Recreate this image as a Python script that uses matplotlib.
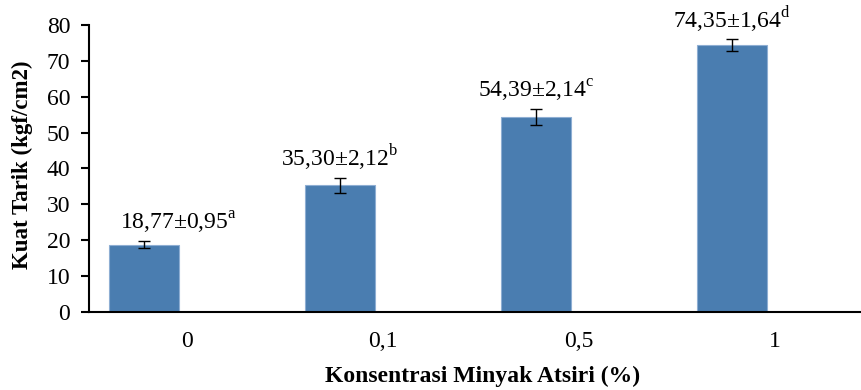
import numpy as np
import matplotlib
matplotlib.use('Agg')
import matplotlib.pyplot as plt

plt.rcParams['font.family'] = ['Liberation Serif', 'DejaVu Serif']
plt.rcParams['mathtext.fontset'] = 'custom'
plt.rcParams['mathtext.rm'] = 'Liberation Serif'

# data
konsentrasi = ['0', '0,1', '0,5', '1']
kuat_tarik = [18.77, 35.30, 54.39, 74.35]
sd = [0.95, 2.12, 2.14, 1.64]
notasi = ['a', 'b', 'c', 'd']

fig = plt.figure(figsize=(8.61, 3.9), dpi=100)
ax = fig.add_axes([0.1034, 0.2, 0.9106, 0.736])

x = np.arange(len(konsentrasi))
xb = x - 0.22  # batang bergeser ke kiri (seri kedua kosong)
ax.bar(xb, kuat_tarik, width=0.357, color='#4a7db0', edgecolor='#8eaed3', linewidth=0.8, zorder=2)
ax.errorbar(xb, kuat_tarik, yerr=sd, fmt='none', ecolor='black', elinewidth=1, capsize=4, capthick=1, zorder=3)

# label di atas batang
geser_x = [25, 0, 0, 0]
for i in range(len(x)):
    teks = '{:.2f}±{:.2f}'.format(kuat_tarik[i], sd[i]).replace('.', ',') + r'$^{\mathrm{' + notasi[i] + '}}$'
    ax.annotate(teks, (xb[i], kuat_tarik[i] + sd[i]), xytext=(geser_x[i], 8), textcoords='offset points',
                ha='center', va='baseline', fontsize=17)

ax.set_xlim(-0.5, 3.5)
ax.set_ylim(0, 80)
ax.set_yticks(np.arange(0, 81, 10))
ax.set_xticks(x)
ax.set_xticklabels(konsentrasi)
ax.tick_params(axis='y', labelsize=17, length=5.5, width=1.5, pad=8)
ax.tick_params(axis='x', labelsize=17, length=0, pad=14)

for s in ['top', 'right']:
    ax.spines[s].set_visible(False)
for s in ['left', 'bottom']:
    ax.spines[s].set_linewidth(1.5)

ax.set_ylabel('Kuat Tarik (kgf/cm2)', fontsize=16.5, fontweight='bold')
ax.yaxis.set_label_coords(-0.0714, 0.512)
ax.set_xlabel('Konsentrasi Minyak Atsiri (%)', fontsize=17, fontweight='bold')
ax.xaxis.set_label_coords(0.502, -0.188)

fig.savefig('out.png', dpi=100)
